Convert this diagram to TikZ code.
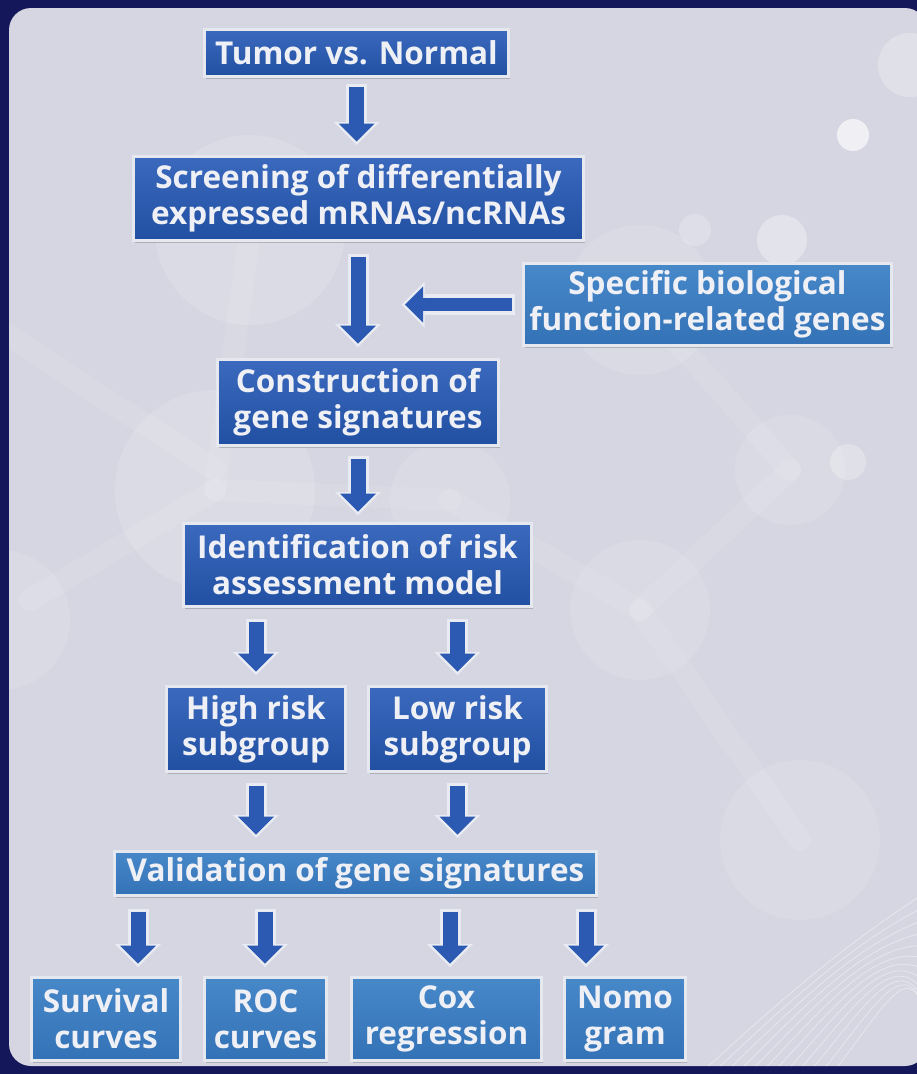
\documentclass[tikz,border=0pt]{standalone}
\usepackage{fontspec}
\setmainfont{Open Sans}
\usetikzlibrary{arrows.meta,shadows,calc}
\definecolor{navy}{HTML}{14175A}
\definecolor{panel}{HTML}{D5D6E1}
\definecolor{darktop}{HTML}{3A69BD}
\definecolor{darkbot}{HTML}{2150A3}
\definecolor{lighttop}{HTML}{4788C9}
\definecolor{lightbot}{HTML}{3372B6}
\definecolor{boxline}{HTML}{E6E8F0}
\definecolor{arrowblue}{HTML}{2C5AB2}
\definecolor{arrowline}{HTML}{E9EBF3}
\definecolor{txt}{HTML}{EEF0F6}
\tikzset{
  box/.style={draw=boxline, line width=3pt, text=txt, align=center,
    font=\fontsize{31.5}{36}\selectfont\bfseries, inner sep=0pt,
    drop shadow={shadow xshift=1.5pt, shadow yshift=-2.5pt, opacity=0.35, fill=black!60}},
  darkbox/.style={box, top color=darktop, bottom color=darkbot},
  lightbox/.style={box, top color=lighttop, bottom color=lightbot},
  barrow/.style n args={2}{arrowblue, line width=15pt, shorten <=#1, shorten >=#2,
    -{Triangle[width=36pt,length=18pt,line width=0pt]},
    preaction={draw=arrowline, line width=21pt, shorten <=#1-3pt, shorten >=#2-3.5pt,
      -{Triangle[width=46pt,length=23pt,line width=0pt]}}},
  blob/.style={fill=white, opacity=#1},
  bond/.style={draw=white, line width=22pt, opacity=0.09, line cap=round}
}
\begin{document}
\begin{tikzpicture}[x=1pt,y=-1pt]
\useasboundingbox (0,0) rectangle (917,1074);
\fill[navy] (0,0) rectangle (917,1074);
\fill[panel, rounded corners=22pt] (9,8) rectangle (927,1066);
% faint molecule decoration
\begin{scope}
\clip[rounded corners=22pt] (9,8) rectangle (927,1066);
\draw[bond] (0,330) -- (215,470);
\draw[bond] (30,600) -- (215,490);
\draw[bond] (250,230) -- (215,490);
\draw[bond] (215,490) -- (450,500);
\draw[bond] (450,500) -- (640,610);
\draw[bond] (640,610) -- (790,470);
\draw[bond] (640,610) -- (800,840);
\draw[bond] (640,300) -- (790,470);
\fill[blob=0.14] (250,230) circle (95);
\fill[blob=0.14] (215,490) circle (100);
\fill[blob=0.12] (0,620) circle (70);
\fill[blob=0.1] (450,500) circle (60);
\fill[blob=0.1] (640,610) circle (70);
\fill[blob=0.12] (790,470) circle (55);
\fill[blob=0.12] (800,840) circle (80);
\fill[blob=0.12] (640,300) circle (75);
\fill[blob=0.25] (910,65) circle (32);
\fill[blob=0.65] (853,135) circle (16);
\fill[blob=0.35] (782,240) circle (25);
\fill[blob=0.25] (848,462) circle (18);
\fill[blob=0.2] (695,230) circle (16);
\foreach \i in {0,...,11}{
  \draw[white, opacity=0.45, line width=0.7pt] (700+\i*12,1074) .. controls (780+\i*10,1000) and (850+\i*6,940) .. (930,890+\i*14);
}
\end{scope}
% nodes
\node[darkbox, minimum width=304pt, minimum height=47pt] (tumor) at (356.5,53) {Tumor vs. Normal};
\node[darkbox, minimum width=450pt, minimum height=84pt] (screen) at (358.5,198.5) {Screening of differentially\\expressed mRNAs/ncRNAs};
\node[lightbox, minimum width=368pt, minimum height=82pt] (spec) at (707.5,304.5) {Specific biological\\function-related genes};
\node[darkbox, minimum width=281pt, minimum height=86pt] (constr) at (358,402.5) {Construction of\\gene signatures};
\node[darkbox, minimum width=348pt, minimum height=83pt] (ident) at (357.5,565) {Identification of risk\\assessment model};
\node[darkbox, minimum width=179pt, minimum height=85pt] (high) at (256,729) {High risk\\subgroup};
\node[darkbox, minimum width=178pt, minimum height=85pt] (low) at (457.5,729) {Low risk\\subgroup};
\node[lightbox, minimum width=482pt, minimum height=44pt] (valid) at (355.5,873.5) {Validation of gene signatures};
\node[lightbox, minimum width=149pt, minimum height=83pt] (surv) at (106,1019) {Survival\\curves};
\node[lightbox, minimum width=122pt, minimum height=83pt] (roc) at (265.5,1019) {ROC\\curves};
\node[lightbox, minimum width=190pt, minimum height=83pt] (cox) at (446.5,1019) {Cox\\regression};
\node[lightbox, minimum width=121pt, minimum height=83pt] (nomo) at (625,1019) {Nomo\\gram};
\coordinate (c1) at (138,0);
\coordinate (c2) at (265,0);
\coordinate (c3) at (450,0);
\coordinate (c4) at (586,0);
% connectors
\draw[barrow={8.5pt}{13.5pt}] (tumor.south) -- (tumor.south |- screen.north);
\draw[barrow={14.5pt}{14.5pt}] (screen.south -| constr.north) -- (constr.north);
\draw[barrow={10.5pt}{47pt}, line width=13pt] (spec.west) -- (spec.west -| constr.north);
\draw[barrow={11.5pt}{10.5pt}] (constr.south) -- (constr.south |- ident.north);
\draw[barrow={13.5pt}{13.5pt}] (ident.south -| high.north) -- (high.north);
\draw[barrow={13.5pt}{13.5pt}] (ident.south -| low.north) -- (low.north);
\draw[barrow={12.5pt}{15.5pt}] (high.south) -- (high.south |- valid.north);
\draw[barrow={12.5pt}{15.5pt}] (low.south) -- (low.south |- valid.north);
\draw[barrow={14.5pt}{12.5pt}] (valid.south -| c1) -- (surv.north -| c1);
\draw[barrow={14.5pt}{12.5pt}] (valid.south -| c2) -- (roc.north -| c2);
\draw[barrow={14.5pt}{12.5pt}] (valid.south -| c3) -- (cox.north -| c3);
\draw[barrow={14.5pt}{12.5pt}] (valid.south -| c4) -- (nomo.north -| c4);
\end{tikzpicture}
\end{document}
